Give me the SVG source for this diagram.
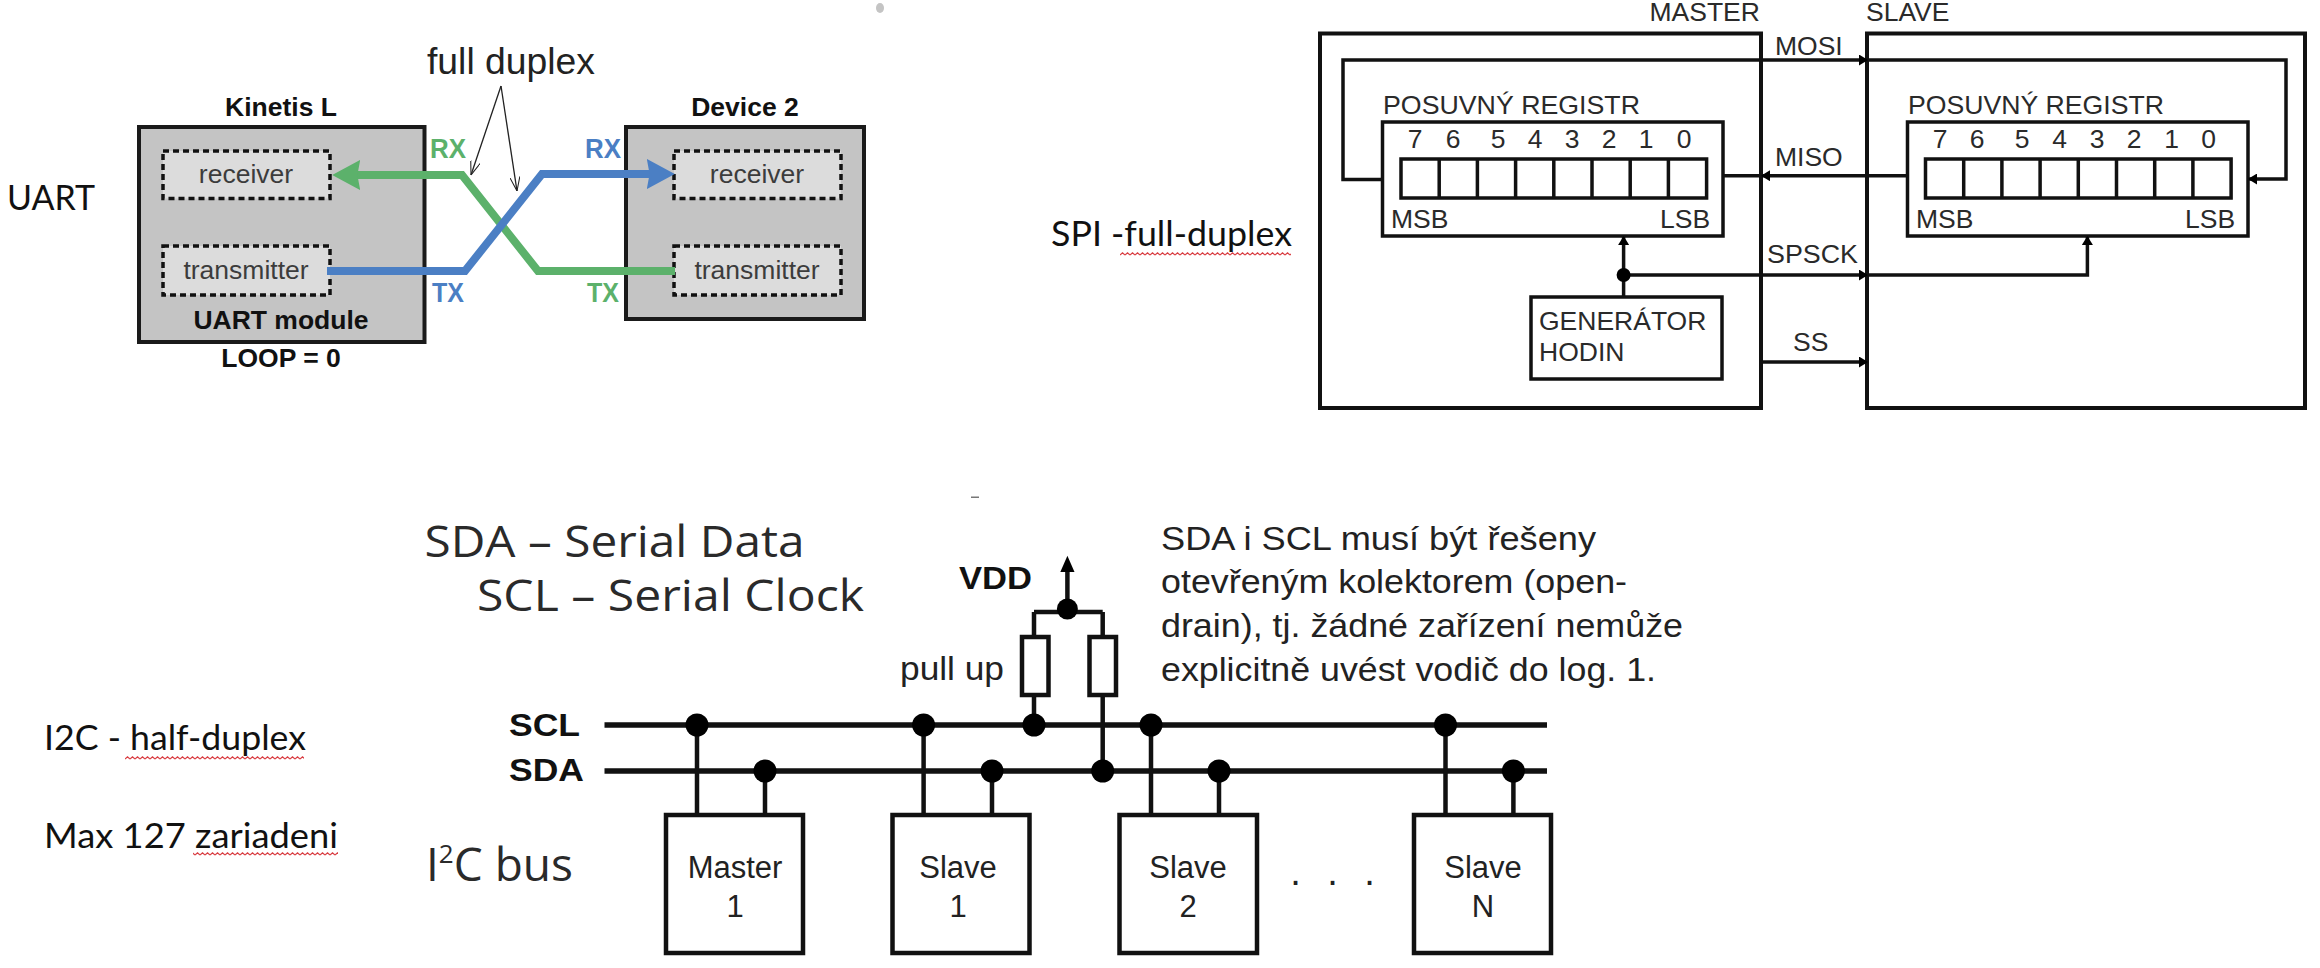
<svg xmlns="http://www.w3.org/2000/svg" width="2320" height="968" viewBox="0 0 2320 968">
<style>
text{font-family:"Liberation Sans",Arial,sans-serif;fill:#222}
.b{font-weight:bold;fill:#111}
.u{font-size:26.5px}
.t{font-size:26.5px;fill:#3c3c3c}
.s{font-size:26.5px;fill:#2a2a2a}
.m{text-anchor:middle}
.cal{font-family:Lato,"Open Sans",sans-serif;font-size:35px;fill:#111}
.big{font-family:"Open Sans","Noto Sans",sans-serif;font-size:44px;fill:#2a2a2a}
.i{font-size:34px;fill:#222}
.n{font-size:31px;fill:#222;text-anchor:middle}
.gr{fill:#5cb16b}.bl{fill:#4b7fc4}
.box{fill:none;stroke:#111;stroke-width:4}
.dev{fill:#c4c4c4;stroke:#1a1a1a;stroke-width:4}
.dash{fill:#dcdcdc;stroke:#111;stroke-width:3.5;stroke-dasharray:6 4}
.w{fill:#fff;stroke:#111;stroke-width:4.5}
.reg{fill:#fff;stroke:#111;stroke-width:3.5}
.c{fill:none;stroke:#111;stroke-width:3.5}
.bus{fill:none;stroke:#111;stroke-width:5.5}
.drop{fill:none;stroke:#111;stroke-width:4.5}
.dot{fill:#000}
.thin{fill:none;stroke:#222;stroke-width:1.3}
.sq{fill:url(#wave)}
</style>
<defs>
<marker id="ab" viewBox="0 0 10 10" preserveAspectRatio="none" refX="10" refY="5" markerWidth="9" markerHeight="11" markerUnits="userSpaceOnUse" orient="auto"><path d="M0,0L10,5L0,10z" fill="#000"/></marker>
<marker id="ag" viewBox="0 0 10 10" preserveAspectRatio="none" refX="6.500" refY="5" markerWidth="28" markerHeight="30" markerUnits="userSpaceOnUse" orient="auto"><path d="M0,0L10,5L0,10L1,5z" fill="#5cb16b"/></marker>
<marker id="abl" viewBox="0 0 10 10" preserveAspectRatio="none" refX="6.500" refY="5" markerWidth="28" markerHeight="30" markerUnits="userSpaceOnUse" orient="auto"><path d="M0,0L10,5L0,10L1,5z" fill="#4b7fc4"/></marker>
<marker id="op" viewBox="0 0 10 10" preserveAspectRatio="none" refX="10" refY="5" markerWidth="14" markerHeight="10" markerUnits="userSpaceOnUse" orient="auto"><path d="M0,0L10,5L0,10" fill="none" stroke="#222" stroke-width="1"/></marker>
<pattern id="wave" patternUnits="userSpaceOnUse" width="5" height="4"><path d="M0,3L2.5,.8L5,3" fill="none" stroke="#d93d42" stroke-width="1.200"/></pattern>
</defs>
<rect width="2320" height="968" fill="#fff"/>
<ellipse cx="880" cy="8" rx="4" ry="5" fill="#c4c4c4"/>
<rect x="971" y="496.500" width="8" height="1.500" fill="#777"/>

<g id="uart-label"><text class="cal" x="7" y="210" textLength="88" lengthAdjust="spacingAndGlyphs">UART</text></g>
<g id="kinetis">
<rect class="dev" x="139" y="127" width="285.500" height="215"/>
<text class="b u m" x="281" y="116">Kinetis L</text>
<text class="b u m" x="281" y="329">UART module</text>
<text class="b u m" x="281" y="367">LOOP = 0</text>
</g>
<g id="kinetis-receiver"><rect class="dash" x="163" y="151" width="167" height="47.500"/><text class="t m" x="246" y="183">receiver</text></g>
<g id="kinetis-transmitter"><rect class="dash" x="163" y="246" width="167" height="49"/><text class="t m" x="246" y="279">transmitter</text></g>
<g id="device2">
<rect class="dev" x="626" y="127" width="238" height="192"/>
<text class="b u m" x="745" y="116">Device 2</text>
</g>
<g id="device-receiver"><rect class="dash" x="674" y="151" width="167" height="47.500"/><text class="t m" x="757" y="183">receiver</text></g>
<g id="device-transmitter"><rect class="dash" x="674" y="246" width="167" height="49"/><text class="t m" x="757" y="279">transmitter</text></g>
<g id="uart-connectors">
<path d="M675,271H538L462,175H342" fill="none" stroke="#5cb16b" stroke-width="8" marker-end="url(#ag)"/>
<path d="M327,271H465L542,174H665" fill="none" stroke="#4b7fc4" stroke-width="8" marker-end="url(#abl)"/>
<path class="thin" d="M501,86L471,175" marker-end="url(#op)"/>
<path class="thin" d="M501,86L517,191" marker-end="url(#op)"/>
</g>
<g id="uart-labels">
<text class="b gr" x="430" y="158" font-size="27" textLength="36" lengthAdjust="spacingAndGlyphs">RX</text>
<text class="b bl" x="585" y="158" font-size="27" textLength="36" lengthAdjust="spacingAndGlyphs">RX</text>
<text class="b bl" x="432" y="302" font-size="27" textLength="32" lengthAdjust="spacingAndGlyphs">TX</text>
<text class="b gr" x="587" y="302" font-size="27" textLength="32" lengthAdjust="spacingAndGlyphs">TX</text>
<text x="427" y="74" font-size="37.300" fill="#222">full duplex</text>
</g>

<g id="spi-label"><text class="cal" x="1051" y="246" textLength="241" lengthAdjust="spacingAndGlyphs">SPI -full-duplex</text><rect class="sq" x="1120" y="252" width="171" height="4"/></g>
<g id="spi-master">
<rect class="box" x="1320" y="33.500" width="441" height="374.500"/>
<text class="s" x="1649.500" y="21">MASTER</text>
</g>
<g id="spi-slave">
<rect class="box" x="1867" y="33.500" width="438" height="374.500"/>
<text class="s" x="1866" y="21">SLAVE</text>
</g>
<g id="master-register">
<rect class="reg" x="1382.500" y="122" width="340.500" height="114"/>
<text class="s" x="1383" y="114" textLength="257" lengthAdjust="spacingAndGlyphs">POSUVNÝ REGISTR</text>
<rect class="reg" x="1401" y="159" width="305.600" height="39"/>
<path class="c" d="M1439.200,159V198M1477.400,159V198M1515.600,159V198M1553.800,159V198M1592,159V198M1630.200,159V198M1668.400,159V198"/>
<g class="dig"><text class="s m" x="1415" y="148">7</text><text class="s m" x="1453" y="148">6</text><text class="s m" x="1498" y="148">5</text><text class="s m" x="1535" y="148">4</text><text class="s m" x="1572" y="148">3</text><text class="s m" x="1609" y="148">2</text><text class="s m" x="1646" y="148">1</text><text class="s m" x="1684" y="148">0</text></g>
<text class="s" x="1391" y="228">MSB</text><text class="s" x="1660" y="228">LSB</text>
</g>
<g id="slave-register">
<rect class="reg" x="1907.500" y="122" width="340.500" height="114"/>
<text class="s" x="1908" y="114" textLength="256" lengthAdjust="spacingAndGlyphs">POSUVNÝ REGISTR</text>
<rect class="reg" x="1925.500" y="159" width="305.600" height="39"/>
<path class="c" d="M1963.700,159V198M2001.900,159V198M2040.100,159V198M2078.300,159V198M2116.500,159V198M2154.700,159V198M2192.900,159V198"/>
<g class="dig"><text class="s m" x="1940" y="148">7</text><text class="s m" x="1977" y="148">6</text><text class="s m" x="2022" y="148">5</text><text class="s m" x="2059.500" y="148">4</text><text class="s m" x="2097" y="148">3</text><text class="s m" x="2134" y="148">2</text><text class="s m" x="2171.500" y="148">1</text><text class="s m" x="2208.500" y="148">0</text></g>
<text class="s" x="1916" y="228">MSB</text><text class="s" x="2185" y="228">LSB</text>
</g>
<g id="clock-generator">
<rect class="reg" x="1531" y="297" width="191" height="82"/>
<text class="s" x="1539" y="330">GENERÁTOR</text>
<text class="s" x="1539" y="361">HODIN</text>
</g>
<g id="spi-connectors">
<path class="c" d="M1382.500,179.500H1343V60H1868" marker-end="url(#ab)"/>
<path class="c" d="M1868,60H2286V179H2248" marker-end="url(#ab)"/>
<path class="c" d="M1907.500,175.700H1761" marker-end="url(#ab)"/>
<path class="c" d="M1761,175.700H1723"/>
<path class="c" d="M1623.600,297V236" marker-end="url(#ab)"/>
<path class="c" d="M1623.600,275H1868" marker-end="url(#ab)"/>
<path class="c" d="M1868,275H2087.400V236" marker-end="url(#ab)"/>
<path class="c" d="M1761,362H1868" marker-end="url(#ab)"/>
<circle class="dot" cx="1623.600" cy="275" r="7"/>
</g>
<g id="spi-labels">
<text class="s" x="1775" y="55">MOSI</text>
<text class="s" x="1775" y="166">MISO</text>
<text class="s" x="1767" y="263" textLength="91" lengthAdjust="spacingAndGlyphs">SPSCK</text>
<text class="s" x="1793" y="351">SS</text>
</g>

<g id="i2c-notes">
<text class="cal" x="44" y="750" textLength="262" lengthAdjust="spacingAndGlyphs">I2C - half-duplex</text>
<rect class="sq" x="125" y="756" width="179" height="4"/>
<text class="cal" x="44" y="848" textLength="294" lengthAdjust="spacingAndGlyphs">Max 127 zariadeni</text>
<rect class="sq" x="193" y="852" width="145" height="4"/>
<text class="big" x="424.500" y="557" textLength="380" lengthAdjust="spacingAndGlyphs">SDA – Serial Data</text>
<text class="big" x="477" y="611" textLength="387" lengthAdjust="spacingAndGlyphs">SCL – Serial Clock</text>
<text class="big" x="426" y="881" font-size="46" style="font-size:46px">I<tspan style="font-size:26px" dy="-18">2</tspan><tspan dy="18">C bus</tspan></text>
</g>
<g id="i2c-explain">
<text class="i" x="1161" y="550" textLength="435" lengthAdjust="spacingAndGlyphs">SDA i SCL musí být řešeny</text>
<text class="i" x="1161" y="593" textLength="466" lengthAdjust="spacingAndGlyphs">otevřeným kolektorem (open-</text>
<text class="i" x="1161" y="637" textLength="522" lengthAdjust="spacingAndGlyphs">drain), tj. žádné zařízení nemůže</text>
<text class="i" x="1161" y="681" textLength="495" lengthAdjust="spacingAndGlyphs">explicitně uvést vodič do log. 1.</text>
</g>
<g id="i2c-connectors">
<path class="bus" d="M604.500,725H1547M604.500,771H1547"/>
<path class="drop" d="M697,725V815M765,771V815M923.600,725V815M992,771V815M1151,725V815M1219,771V815M1445.500,725V815M1513.400,771V815"/>
<path class="drop" d="M1034,612V637M1034,695V725M1102.700,612V637M1102.700,695V771M1034,612H1102.700"/>
<path class="drop" d="M1067.400,612V570"/>
<path d="M1067.400,555.700L1074.500,572H1060.300z" fill="#000"/>
<g class="dot">
<circle cx="697" cy="725" r="11.500"/><circle cx="923.600" cy="725" r="11.500"/><circle cx="1034" cy="725" r="11.500"/><circle cx="1151" cy="725" r="11.500"/><circle cx="1445.500" cy="725" r="11.500"/>
<circle cx="765" cy="771" r="11.500"/><circle cx="992" cy="771" r="11.500"/><circle cx="1102.700" cy="771" r="11.500"/><circle cx="1219" cy="771" r="11.500"/><circle cx="1513.400" cy="771" r="11.500"/>
<circle cx="1067.400" cy="609" r="10.500"/>
</g>
</g>
<g id="pullup-left"><rect class="w" x="1022" y="637" width="26.500" height="58"/></g>
<g id="pullup-right"><rect class="w" x="1089.500" y="637" width="26.500" height="58"/></g>
<g id="i2c-labels">
<text class="b" x="509" y="736" font-size="31" textLength="71" lengthAdjust="spacingAndGlyphs">SCL</text>
<text class="b" x="509" y="781" font-size="31" textLength="75" lengthAdjust="spacingAndGlyphs">SDA</text>
<text class="b" x="959" y="589" font-size="31" textLength="73" lengthAdjust="spacingAndGlyphs">VDD</text>
<text class="i" x="900" y="680" textLength="104" lengthAdjust="spacingAndGlyphs">pull up</text>
</g>
<g id="master-1"><rect class="w" x="666" y="815" width="137" height="138"/><text class="n" x="735" y="878">Master</text><text class="n" x="735" y="917">1</text></g>
<g id="slave-1"><rect class="w" x="892.500" y="815" width="137" height="138"/><text class="n" x="958" y="878">Slave</text><text class="n" x="958" y="917">1</text></g>
<g id="slave-2"><rect class="w" x="1119.500" y="815" width="137.500" height="138"/><text class="n" x="1188" y="878">Slave</text><text class="n" x="1188" y="917">2</text></g>
<g id="slave-n"><rect class="w" x="1414" y="815" width="137" height="138"/><text class="n" x="1483" y="878">Slave</text><text class="n" x="1483" y="917">N</text></g>
<text x="1290.200 1308 1327.300 1345 1364.300" y="885" font-size="38" fill="#222">. . .</text>
</svg>
